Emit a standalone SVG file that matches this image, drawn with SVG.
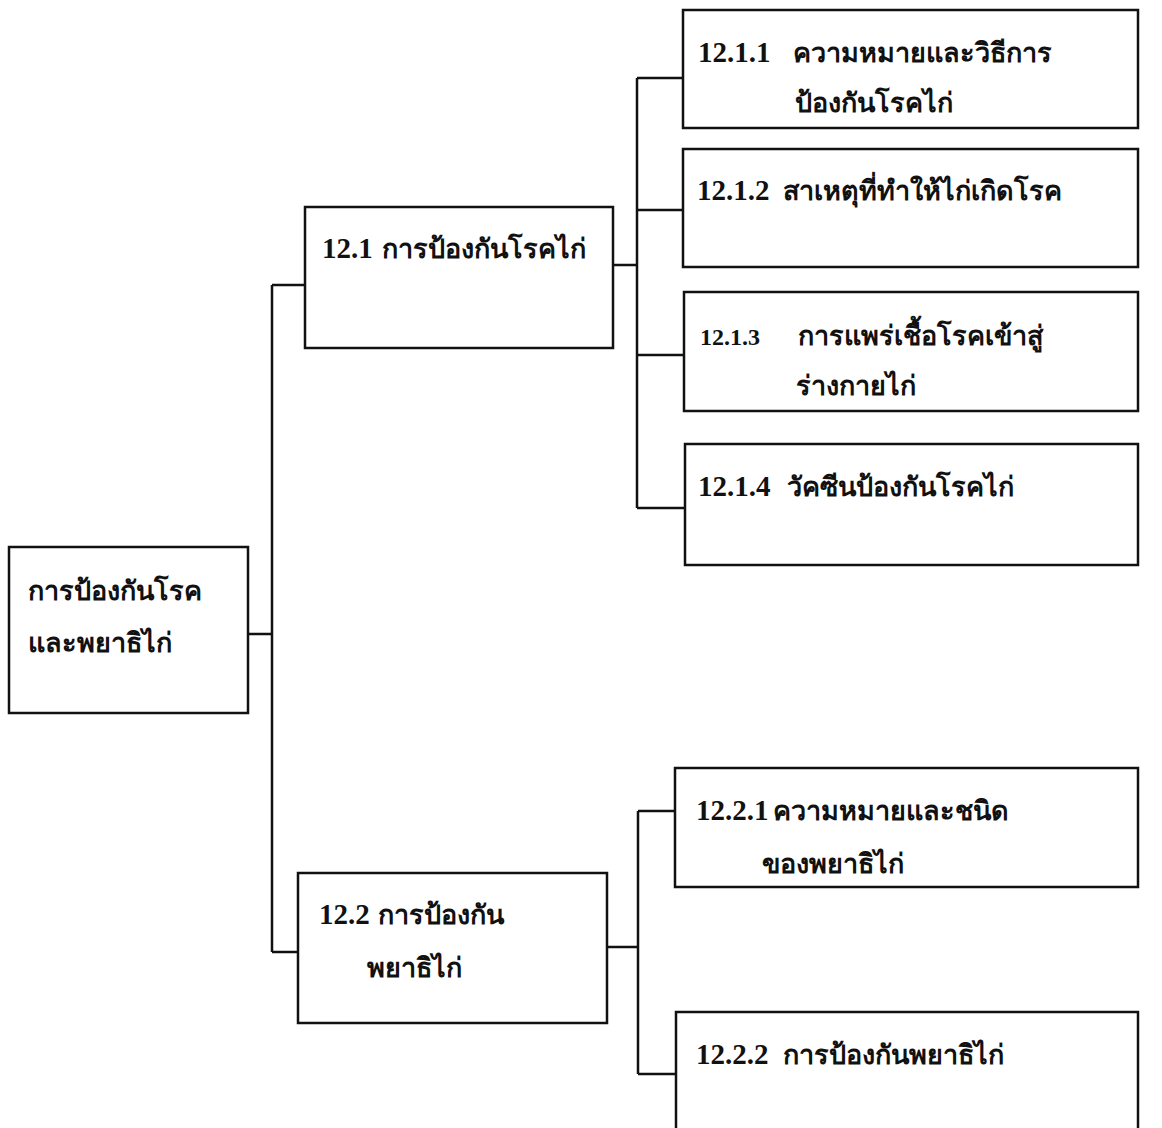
<svg xmlns="http://www.w3.org/2000/svg" width="1162" height="1128" viewBox="0 0 1162 1128">
<style>
.box{fill:#fff;stroke:#111;stroke-width:2.5}
.ln{fill:none;stroke:#111;stroke-width:2.5}
text{font-family:"Liberation Serif","Noto Sans","DejaVu Sans",serif;font-size:27px;fill:#111;font-weight:bold}
.num{font-size:29px}
.sm{font-size:24px}
</style>
<rect width="1162" height="1128" fill="#fff"/>
<g id="connectors">
<path class="ln" d="M248,634H272M272,285V952M272,285H305M272,952H298"/>
<path class="ln" d="M613,265H637M637,78V508M637,78H683M637,210H683M637,355H684M637,508H685"/>
<path class="ln" d="M607,947H638M638,811V1074M638,811H675M638,1074H676"/>
</g>
<g id="root">
<rect class="box" x="9" y="547" width="239" height="166"/>
<text x="28" y="600">การป้องกันโรค</text>
<text x="28" y="652">และพยาธิไก่</text>
</g>
<g id="n12_1">
<rect class="box" x="305" y="207" width="308" height="141"/>
<text y="258"><tspan class="num" x="322">12.1</tspan><tspan x="382">การป้องกันโรคไก่</tspan></text>
</g>
<g id="n12_2">
<rect class="box" x="298" y="873" width="309" height="150"/>
<text y="924"><tspan class="num" x="319">12.2</tspan><tspan x="378">การป้องกัน</tspan></text>
<text x="367" y="977">พยาธิไก่</text>
</g>
<g id="n12_1_1">
<rect class="box" x="683" y="10" width="455" height="118"/>
<text y="62"><tspan class="num" x="698">12.1.1</tspan><tspan x="793">ความหมายและวิธีการ</tspan></text>
<text x="795" y="112">ป้องกันโรคไก่</text>
</g>
<g id="n12_1_2">
<rect class="box" x="683" y="149" width="455" height="118"/>
<text y="200"><tspan class="num" x="697">12.1.2</tspan><tspan x="783">สาเหตุที่ทำให้ไก่เกิดโรค</tspan></text>
</g>
<g id="n12_1_3">
<rect class="box" x="684" y="292" width="454" height="119"/>
<text y="345"><tspan class="sm" x="700">12.1.3</tspan><tspan x="798">การแพร่เชื้อโรคเข้าสู่</tspan></text>
<text x="796" y="395">ร่างกายไก่</text>
</g>
<g id="n12_1_4">
<rect class="box" x="685" y="444" width="453" height="121"/>
<text y="496"><tspan class="num" x="698">12.1.4</tspan><tspan x="787">วัคซีนป้องกันโรคไก่</tspan></text>
</g>
<g id="n12_2_1">
<rect class="box" x="675" y="768" width="463" height="119"/>
<text y="820"><tspan class="num" x="696">12.2.1</tspan><tspan x="773">ความหมายและชนิด</tspan></text>
<text x="762" y="873">ของพยาธิไก่</text>
</g>
<g id="n12_2_2">
<rect class="box" x="676" y="1012" width="462" height="130"/>
<text y="1064"><tspan class="num" x="696">12.2.2</tspan><tspan x="783">การป้องกันพยาธิไก่</tspan></text>
</g>
</svg>
